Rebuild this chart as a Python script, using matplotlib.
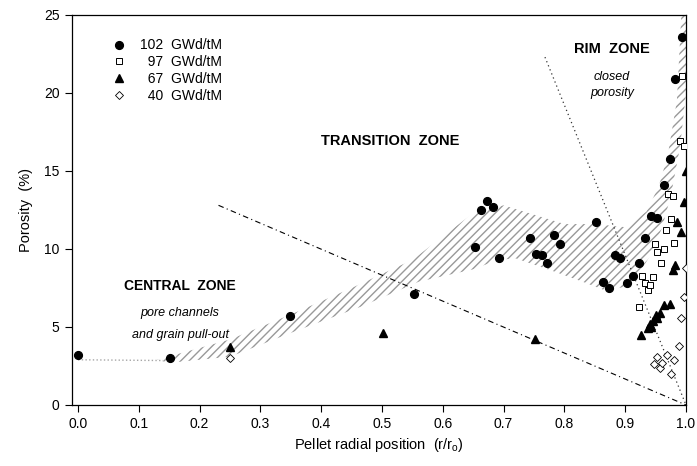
import matplotlib
matplotlib.use("Agg")
import matplotlib.pyplot as plt

plt.rcParams.update({
    "font.family": ["Liberation Sans", "DejaVu Sans"],
    "hatch.linewidth": 1.0,
    "hatch.color": "0.6",
})

# 102 GWd/tM (filled circles)
x102 = [0.0, 0.152, 0.349, 0.552, 0.653, 0.662, 0.672, 0.683, 0.692, 0.743,
        0.753, 0.763, 0.772, 0.783, 0.792, 0.852, 0.863, 0.873, 0.883, 0.892,
        0.903, 0.912, 0.922, 0.933, 0.942, 0.952, 0.964, 0.974, 0.982, 0.993]
y102 = [3.2, 3.0, 5.7, 7.1, 10.1, 12.5, 13.1, 12.7, 9.4, 10.7,
        9.7, 9.6, 9.1, 10.9, 10.3, 11.7, 7.9, 7.5, 9.6, 9.4,
        7.8, 8.3, 9.1, 10.7, 12.1, 12.0, 14.1, 15.8, 20.9, 23.6]
# 97 GWd/tM (open squares)
x97 = [0.923, 0.927, 0.933, 0.937, 0.941, 0.945, 0.949, 0.953, 0.959, 0.963,
       0.967, 0.970, 0.976, 0.978, 0.981, 0.990, 0.994, 0.997]
y97 = [6.3, 8.3, 7.8, 7.4, 7.7, 8.2, 10.3, 9.8, 9.1, 10.0,
       11.2, 13.5, 11.9, 13.4, 10.4, 16.9, 21.1, 16.6]
# 67 GWd/tM (filled triangles)
x67 = [0.25, 0.501, 0.752, 0.926, 0.937, 0.942, 0.940, 0.945, 0.953, 0.951,
       0.958, 0.963, 0.973, 0.978, 0.982, 0.986, 0.992, 0.996, 1.0]
y67 = [3.7, 4.6, 4.2, 4.5, 4.95, 5.0, 5.2, 5.4, 5.6, 5.8,
       5.9, 6.4, 6.5, 8.65, 9.0, 11.7, 11.1, 13.0, 15.0]
# 40 GWd/tM (open diamonds)
x40 = [0.25, 0.948, 0.953, 0.958, 0.961, 0.969, 0.976, 0.981, 0.988, 0.992, 0.996, 1.0]
y40 = [3.0, 2.6, 3.1, 2.4, 2.7, 3.2, 2.0, 2.9, 3.8, 5.55, 6.9, 8.8]

# hatched trend band: upper edge left->right, then lower edge right->left
band_x = [0.13, 0.25, 0.35, 0.45, 0.55, 0.60, 0.65, 0.70, 0.80, 0.85, 0.90,
          0.935, 0.955, 0.97, 0.985, 0.993,
          1.0, 1.0, 0.99, 0.975, 0.96, 0.94, 0.92, 0.90, 0.87, 0.83, 0.78,
          0.72, 0.69, 0.65, 0.56, 0.465, 0.355, 0.25, 0.15]
band_y = [2.9, 4.2, 5.8, 7.5, 9.3, 10.8, 12.3, 12.8, 11.6, 11.6, 11.4,
          12.4, 14.0, 16.0, 19.5, 25.5,
          25.5, 20.0, 16.5, 13.4, 11.3, 9.5, 8.3, 7.6, 7.3, 7.9, 8.6,
          9.4, 9.3, 8.7, 7.9, 6.3, 4.7, 3.1, 2.7]

fig = plt.figure(figsize=(6.97, 4.66), dpi=100)
ax = fig.add_axes([72/697, 61/466, 614/697, 390/466])

ax.fill(band_x, band_y, facecolor="none", edgecolor="0.6", lw=0, hatch="////", zorder=1)
ax.plot([0.0, 0.14], [2.9, 2.85], ls=":", color="0.65", lw=1.0, zorder=1)

# zone boundaries
ax.plot([0.231, 1.0], [12.8, 0.0], color="k", lw=0.8, ls=(0, (5, 3, 1, 3)), zorder=2)
ax.plot([0.768, 1.0], [22.3, 0.0], color="0.2", lw=0.9, ls=(0, (1, 2.5)), zorder=2)

ax.plot(x102, y102, "o", color="k", ms=5.6, ls="none", label="102  GWd/tM", zorder=4)
ax.plot(x97, y97, "s", mfc="white", mec="k", mew=0.7, ms=4.8, ls="none",
        label="  97  GWd/tM", zorder=4)
ax.plot(x67, y67, "^", color="k", ms=5.6, ls="none", label="  67  GWd/tM", zorder=4)
ax.plot(x40, y40, "D", mfc="white", mec="k", mew=0.6, ms=4.3, ls="none",
        label="  40  GWd/tM", zorder=4)

ax.legend(loc="upper left", bbox_to_anchor=(0.065, 0.94), frameon=False,
          fontsize=10, handlelength=1.0, handletextpad=1.0, labelspacing=0.2,
          borderaxespad=0, borderpad=0)

ax.text(0.168, 7.6, "CENTRAL  ZONE", ha="center", va="center", fontsize=10, fontweight="bold")
ax.text(0.168, 5.9, "pore channels", ha="center", va="center", fontsize=9, style="italic")
ax.text(0.168, 4.5, "and grain pull-out", ha="center", va="center", fontsize=9, style="italic")
ax.text(0.514, 16.9, "TRANSITION  ZONE", ha="center", va="center", fontsize=10.5, fontweight="bold")
ax.text(0.878, 22.8, "RIM  ZONE", ha="center", va="center", fontsize=10.5, fontweight="bold")
ax.text(0.878, 21.0, "closed", ha="center", va="center", fontsize=9, style="italic")
ax.text(0.878, 20.0, "porosity", ha="center", va="center", fontsize=9, style="italic")

ax.set_xlim(-0.01, 1.0)
ax.set_ylim(0, 25)
ax.set_xticks([i / 10 for i in range(11)])
ax.set_xticklabels([f"{i / 10:.1f}" for i in range(11)])
ax.set_yticks([0, 5, 10, 15, 20, 25])
ax.tick_params(direction="out", length=5, width=0.8, labelsize=10, pad=4)
for s in ax.spines.values():
    s.set_linewidth(0.9)
ax.set_xlabel("Pellet radial position  (r/r$_\\mathregular{o}$)", fontsize=10.5, labelpad=3)
ax.set_ylabel("Porosity  (%)", fontsize=10.5, labelpad=8)

fig.savefig("out.png", dpi=100)
